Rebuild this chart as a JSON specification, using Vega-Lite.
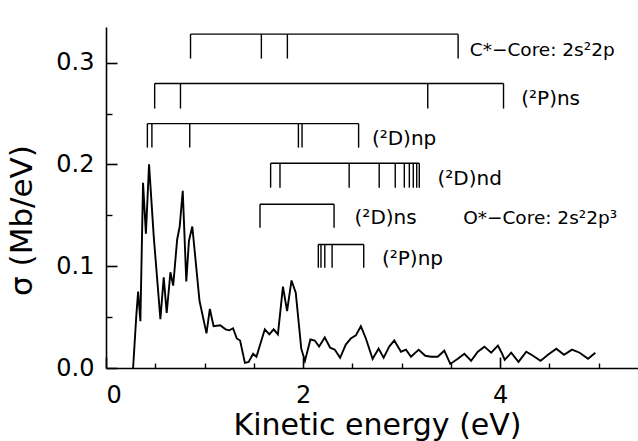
{
  "$schema": "https://vega.github.io/schema/vega-lite/v6.json",
  "width": 532,
  "height": 341,
  "autosize": {"type": "none"},
  "padding": {"left": 106, "top": 27, "right": 0, "bottom": 73},
  "background": "white",
  "config": {"view": {"stroke": null}, "font": "DejaVu Sans"},
  "datasets": {
    "curve": [
      {"E": 0.275, "s": 0.000}, {"E": 0.308, "s": 0.052}, {"E": 0.326, "s": 0.075}, {"E": 0.349, "s": 0.046},
      {"E": 0.376, "s": 0.182}, {"E": 0.405, "s": 0.132}, {"E": 0.437, "s": 0.200}, {"E": 0.484, "s": 0.130},
      {"E": 0.552, "s": 0.048}, {"E": 0.586, "s": 0.089}, {"E": 0.616, "s": 0.054}, {"E": 0.654, "s": 0.094},
      {"E": 0.682, "s": 0.081}, {"E": 0.722, "s": 0.126}, {"E": 0.748, "s": 0.139}, {"E": 0.779, "s": 0.174},
      {"E": 0.815, "s": 0.085}, {"E": 0.842, "s": 0.125}, {"E": 0.876, "s": 0.139}, {"E": 0.949, "s": 0.066},
      {"E": 1.020, "s": 0.034}, {"E": 1.054, "s": 0.058}, {"E": 1.092, "s": 0.041}, {"E": 1.159, "s": 0.042},
      {"E": 1.214, "s": 0.038}, {"E": 1.251, "s": 0.037}, {"E": 1.290, "s": 0.039}, {"E": 1.328, "s": 0.029},
      {"E": 1.361, "s": 0.027}, {"E": 1.410, "s": 0.005}, {"E": 1.448, "s": 0.006}, {"E": 1.493, "s": 0.014},
      {"E": 1.527, "s": 0.011}, {"E": 1.612, "s": 0.038}, {"E": 1.658, "s": 0.033}, {"E": 1.702, "s": 0.038},
      {"E": 1.745, "s": 0.033}, {"E": 1.796, "s": 0.080}, {"E": 1.838, "s": 0.056}, {"E": 1.883, "s": 0.086},
      {"E": 1.926, "s": 0.074}, {"E": 1.982, "s": 0.019}, {"E": 2.019, "s": 0.007}, {"E": 2.075, "s": 0.028},
      {"E": 2.119, "s": 0.027}, {"E": 2.163, "s": 0.021}, {"E": 2.221, "s": 0.030}, {"E": 2.275, "s": 0.020},
      {"E": 2.323, "s": 0.018}, {"E": 2.376, "s": 0.010}, {"E": 2.434, "s": 0.023}, {"E": 2.485, "s": 0.029},
      {"E": 2.536, "s": 0.032}, {"E": 2.587, "s": 0.041}, {"E": 2.638, "s": 0.029}, {"E": 2.706, "s": 0.009},
      {"E": 2.767, "s": 0.019}, {"E": 2.818, "s": 0.010}, {"E": 2.875, "s": 0.021}, {"E": 2.926, "s": 0.027},
      {"E": 2.994, "s": 0.016}, {"E": 3.045, "s": 0.018}, {"E": 3.096, "s": 0.011}, {"E": 3.174, "s": 0.018},
      {"E": 3.241, "s": 0.012}, {"E": 3.299, "s": 0.011}, {"E": 3.367, "s": 0.011}, {"E": 3.434, "s": 0.017},
      {"E": 3.495, "s": 0.004}, {"E": 3.571, "s": 0.009}, {"E": 3.638, "s": 0.014}, {"E": 3.706, "s": 0.007},
      {"E": 3.774, "s": 0.016}, {"E": 3.841, "s": 0.021}, {"E": 3.910, "s": 0.015}, {"E": 3.978, "s": 0.022},
      {"E": 4.016, "s": 0.015}, {"E": 4.047, "s": 0.008}, {"E": 4.113, "s": 0.015}, {"E": 4.187, "s": 0.006},
      {"E": 4.266, "s": 0.016}, {"E": 4.334, "s": 0.012}, {"E": 4.411, "s": 0.007}, {"E": 4.486, "s": 0.013},
      {"E": 4.571, "s": 0.019}, {"E": 4.649, "s": 0.013}, {"E": 4.730, "s": 0.018}, {"E": 4.808, "s": 0.015},
      {"E": 4.893, "s": 0.009}, {"E": 4.967, "s": 0.015}
    ],
    "series": [
      {"series": "C", "start": 0.858, "end": 3.574, "top": 0.328},
      {"series": "Pns", "start": 0.494, "end": 4.035, "top": 0.2795},
      {"series": "Dnp", "start": 0.420, "end": 2.564, "top": 0.2401},
      {"series": "Dnd", "start": 1.671, "end": 3.180, "top": 0.2011},
      {"series": "Dns", "start": 1.563, "end": 2.315, "top": 0.1608},
      {"series": "Pnp", "start": 2.155, "end": 2.616, "top": 0.1214}
    ],
    "levels": [
      {"series": "C", "E": 0.858, "top": 0.328, "bottom": 0.304},
      {"series": "C", "E": 1.577, "top": 0.328, "bottom": 0.304},
      {"series": "C", "E": 1.841, "top": 0.328, "bottom": 0.304},
      {"series": "C", "E": 3.574, "top": 0.328, "bottom": 0.304},
      {"series": "Pns", "E": 0.494, "top": 0.2795, "bottom": 0.2549},
      {"series": "Pns", "E": 0.756, "top": 0.2795, "bottom": 0.2549},
      {"series": "Pns", "E": 3.266, "top": 0.2795, "bottom": 0.2549},
      {"series": "Pns", "E": 4.035, "top": 0.2795, "bottom": 0.2549},
      {"series": "Dnp", "E": 0.420, "top": 0.2401, "bottom": 0.2165},
      {"series": "Dnp", "E": 0.466, "top": 0.2401, "bottom": 0.2165},
      {"series": "Dnp", "E": 0.850, "top": 0.2401, "bottom": 0.2165},
      {"series": "Dnp", "E": 1.953, "top": 0.2401, "bottom": 0.2165},
      {"series": "Dnp", "E": 1.990, "top": 0.2401, "bottom": 0.2165},
      {"series": "Dnp", "E": 2.564, "top": 0.2401, "bottom": 0.2165},
      {"series": "Dnd", "E": 1.671, "top": 0.2011, "bottom": 0.1772},
      {"series": "Dnd", "E": 1.766, "top": 0.2011, "bottom": 0.1772},
      {"series": "Dnd", "E": 2.468, "top": 0.2011, "bottom": 0.1772},
      {"series": "Dnd", "E": 2.773, "top": 0.2011, "bottom": 0.1772},
      {"series": "Dnd", "E": 2.936, "top": 0.2011, "bottom": 0.1772},
      {"series": "Dnd", "E": 3.028, "top": 0.2011, "bottom": 0.1772},
      {"series": "Dnd", "E": 3.079, "top": 0.2011, "bottom": 0.1772},
      {"series": "Dnd", "E": 3.119, "top": 0.2011, "bottom": 0.1772},
      {"series": "Dnd", "E": 3.154, "top": 0.2011, "bottom": 0.1772},
      {"series": "Dnd", "E": 3.180, "top": 0.2011, "bottom": 0.1772},
      {"series": "Dns", "E": 1.563, "top": 0.1608, "bottom": 0.1379},
      {"series": "Dns", "E": 2.315, "top": 0.1608, "bottom": 0.1379},
      {"series": "Pnp", "E": 2.155, "top": 0.1214, "bottom": 0.0985},
      {"series": "Pnp", "E": 2.182, "top": 0.1214, "bottom": 0.0985},
      {"series": "Pnp", "E": 2.221, "top": 0.1214, "bottom": 0.0985},
      {"series": "Pnp", "E": 2.295, "top": 0.1214, "bottom": 0.0985},
      {"series": "Pnp", "E": 2.616, "top": 0.1214, "bottom": 0.0985}
    ],
    "labels": [
      {"label": "(²P)ns", "E": 4.215, "s": 0.264},
      {"label": "(²D)np", "E": 2.699, "s": 0.225},
      {"label": "(²D)nd", "E": 3.365, "s": 0.186},
      {"label": "(²D)ns", "E": 2.523, "s": 0.147},
      {"label": "(²P)np", "E": 2.801, "s": 0.107}
    ],
    "cores": [
      {"label": "C*−Core: 2s²2p", "E": 3.692, "s": 0.312},
      {"label": "O*−Core: 2s²2p³", "E": 3.625, "s": 0.147}
    ]
  },
  "layer": [
    {
      "data": {"name": "curve"},
      "mark": {"type": "line", "color": "black", "strokeWidth": 1.9, "clip": false},
      "encoding": {
        "x": {"field": "E", "type": "quantitative", "scale": {"domain": [0, 5.4], "nice": false, "zero": false},
          "axis": {"orient": "bottom", "values": [0, 2, 4], "format": "d", "grid": false,
            "tickSize": -11, "tickWidth": 1.6, "tickColor": "black", "domainColor": "black", "domainWidth": 1.6,
            "labelPadding": 26, "labelFont": "DejaVu Sans", "labelFontSize": 24, "labelFontWeight": "normal", "labelColor": "black",
            "title": "Kinetic energy (eV)", "titleFont": "DejaVu Sans", "titleFontSize": 30, "titleFontWeight": "normal", "titleColor": "black",
            "titleX": 271, "titleY": 66, "titleBaseline": "alphabetic", "titleAlign": "center", "titleAnchor": null}},
        "y": {"field": "s", "type": "quantitative", "scale": {"domain": [0, 0.335], "nice": false},
          "axis": {"orient": "left", "values": [0, 0.1, 0.2, 0.3], "format": ".1f", "grid": false,
            "tickSize": -11, "tickWidth": 1.6, "tickColor": "black", "domainColor": "black", "domainWidth": 1.6,
            "labelPadding": 23, "labelFont": "DejaVu Sans", "labelFontSize": 24, "labelFontWeight": "normal", "labelColor": "black",
            "title": "σ (Mb/eV)", "titleFont": "DejaVu Sans", "titleFontSize": 31, "titleFontWeight": "normal", "titleColor": "black",
            "titleX": -84, "titleY": 193, "titleAngle": -90, "titleBaseline": "middle", "titleAlign": "center", "titleAnchor": null}}
      }
    },
    {
      "data": {"name": "series"},
      "mark": {"type": "rule", "color": "black", "strokeWidth": 1.4, "clip": false},
      "encoding": {
        "x": {"field": "start", "type": "quantitative", "scale": {"domain": [0, 5.4], "nice": false, "zero": false},
          "axis": {"orient": "bottom", "values": [0.5, 1, 1.5, 2.5, 3, 3.5, 4.5, 5], "labels": false, "domain": false, "grid": false,
            "tickSize": -5, "tickWidth": 1.4, "tickColor": "black", "title": null}},
        "x2": {"field": "end"},
        "y": {"field": "top", "type": "quantitative", "scale": {"domain": [0, 0.335], "nice": false},
          "axis": {"orient": "left", "values": [0.05, 0.15, 0.25], "labels": false, "domain": false, "grid": false,
            "tickSize": -6, "tickWidth": 1.4, "tickColor": "black", "title": null}}
      }
    },
    {
      "data": {"name": "levels"},
      "mark": {"type": "rule", "color": "black", "strokeWidth": 1.4, "clip": false},
      "encoding": {
        "x": {"field": "E", "type": "quantitative", "scale": {"domain": [0, 5.4], "nice": false, "zero": false}, "axis": null},
        "y": {"field": "top", "type": "quantitative", "scale": {"domain": [0, 0.335], "nice": false}, "axis": null},
        "y2": {"field": "bottom"}
      }
    },
    {
      "data": {"name": "labels"},
      "mark": {"type": "text", "font": "DejaVu Sans", "fontSize": 20, "fontWeight": "normal", "color": "black", "align": "left", "baseline": "middle", "clip": false},
      "encoding": {
        "x": {"field": "E", "type": "quantitative", "scale": {"domain": [0, 5.4], "nice": false, "zero": false}, "axis": null},
        "y": {"field": "s", "type": "quantitative", "scale": {"domain": [0, 0.335], "nice": false}, "axis": null},
        "text": {"field": "label"}
      }
    },
    {
      "data": {"name": "cores"},
      "mark": {"type": "text", "font": "DejaVu Sans", "fontSize": 18.5, "fontWeight": "normal", "color": "black", "align": "left", "baseline": "middle", "clip": false},
      "encoding": {
        "x": {"field": "E", "type": "quantitative", "scale": {"domain": [0, 5.4], "nice": false, "zero": false}, "axis": null},
        "y": {"field": "s", "type": "quantitative", "scale": {"domain": [0, 0.335], "nice": false}, "axis": null},
        "text": {"field": "label"}
      }
    }
  ],
  "resolve": {"axis": {"x": "independent", "y": "independent"}}
}
